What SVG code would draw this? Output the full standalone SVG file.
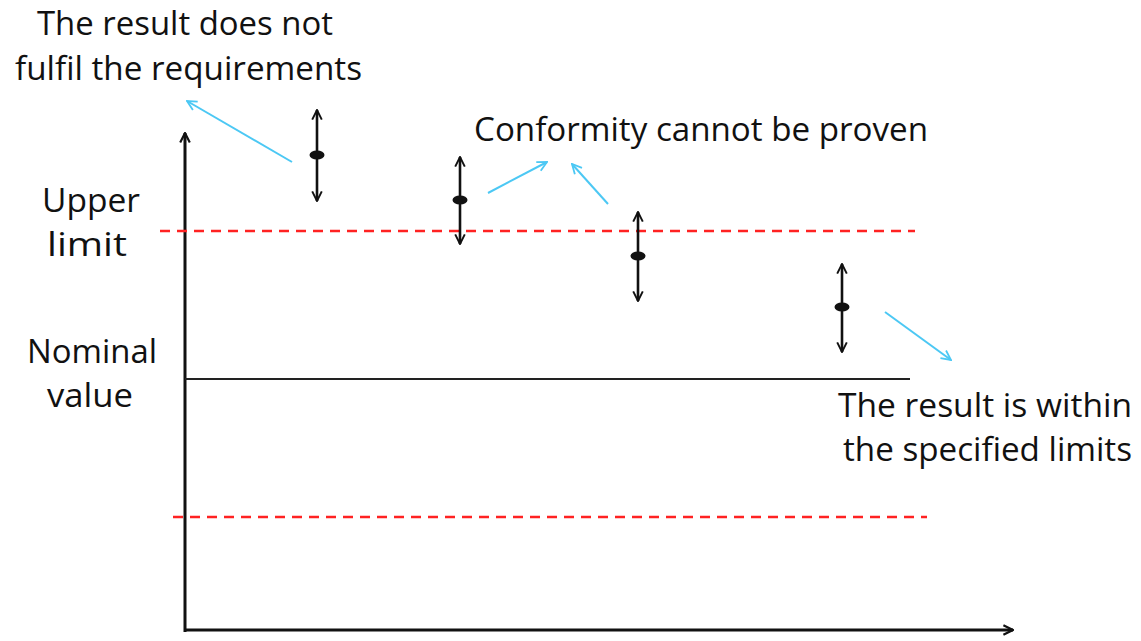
<svg xmlns="http://www.w3.org/2000/svg" width="1141" height="641" viewBox="0 0 1141 641">
<style>
text{font-family:"Open Sans","Liberation Sans",sans-serif;font-size:33px;fill:#111}
.ax{stroke:#111;stroke-width:3;fill:none}
.lim{stroke:#f22;stroke-width:2.4;stroke-dasharray:10,7;fill:none}
.m{stroke:#111;stroke-width:2.6;fill:none}
.bl{stroke:#4cc8f4;stroke-width:2;fill:none}
</style>
<defs>
<marker id="ah" viewBox="0 0 10 10" refX="9" refY="5" markerWidth="4.6" markerHeight="4.6" orient="auto-start-reverse" markerUnits="strokeWidth"><path d="M1,1 L9,5 L1,9" fill="none" stroke="#111" stroke-width="1.6"/></marker>
<marker id="aa" viewBox="0 0 10 10" refX="9" refY="5" markerWidth="4" markerHeight="4" orient="auto" markerUnits="strokeWidth"><path d="M1,1 L9,5 L1,9" fill="none" stroke="#111" stroke-width="1.8"/></marker>
<marker id="ab" viewBox="0 0 10 10" refX="9" refY="5" markerWidth="6" markerHeight="6" orient="auto" markerUnits="strokeWidth"><path d="M1,1 L9,5 L1,9" fill="none" stroke="#4cc8f4" stroke-width="1.5"/></marker>
</defs>
<g id="axes">
<path class="ax" d="M185,632 L185,133" marker-end="url(#aa)"/>
<path class="ax" d="M184,630 L1013,630" marker-end="url(#aa)"/>
</g>
<g id="limits">
<line class="lim" x1="160" y1="231" x2="915" y2="231"/>
<line class="lim" x1="173" y1="517" x2="927" y2="517"/>
<line x1="185" y1="379" x2="910" y2="379" stroke="#222" stroke-width="2"/>
</g>
<g id="m1"><path class="m" d="M317,110 L317,201" marker-start="url(#ah)" marker-end="url(#ah)"/><ellipse cx="317" cy="155" rx="7.5" ry="4.5" fill="#111"/></g>
<g id="m2"><path class="m" d="M460,157 L460,244" marker-start="url(#ah)" marker-end="url(#ah)"/><ellipse cx="460" cy="200" rx="7.5" ry="4.5" fill="#111"/></g>
<g id="m3"><path class="m" d="M638,212 L638,301" marker-start="url(#ah)" marker-end="url(#ah)"/><ellipse cx="638" cy="256" rx="7.5" ry="4.5" fill="#111"/></g>
<g id="m4"><path class="m" d="M842,264 L842,352" marker-start="url(#ah)" marker-end="url(#ah)"/><ellipse cx="842" cy="307" rx="7.5" ry="4.5" fill="#111"/></g>
<g id="connectors">
<path class="bl" d="M292,162 L187,101" marker-end="url(#ab)"/>
<path class="bl" d="M488,193 L547,162" marker-end="url(#ab)"/>
<path class="bl" d="M608,204 L572,164" marker-end="url(#ab)"/>
<path class="bl" d="M885,312 L951,360" marker-end="url(#ab)"/>
</g>
<g id="labels">
<text x="37" y="35" textLength="296" lengthAdjust="spacingAndGlyphs">The result does not</text>
<text x="15" y="80" textLength="347" lengthAdjust="spacingAndGlyphs">fulfil the requirements</text>
<text x="474" y="141" textLength="454" lengthAdjust="spacingAndGlyphs">Conformity cannot be proven</text>
<text x="42" y="212" textLength="98" lengthAdjust="spacingAndGlyphs">Upper</text>
<text x="47" y="256" textLength="80" lengthAdjust="spacingAndGlyphs">limit</text>
<text x="27" y="363" textLength="130" lengthAdjust="spacingAndGlyphs">Nominal</text>
<text x="47" y="407" textLength="86" lengthAdjust="spacingAndGlyphs">value</text>
<text x="838" y="417" textLength="294" lengthAdjust="spacingAndGlyphs">The result is within</text>
<text x="843" y="461" textLength="289" lengthAdjust="spacingAndGlyphs">the specified limits</text>
</g>
</svg>
